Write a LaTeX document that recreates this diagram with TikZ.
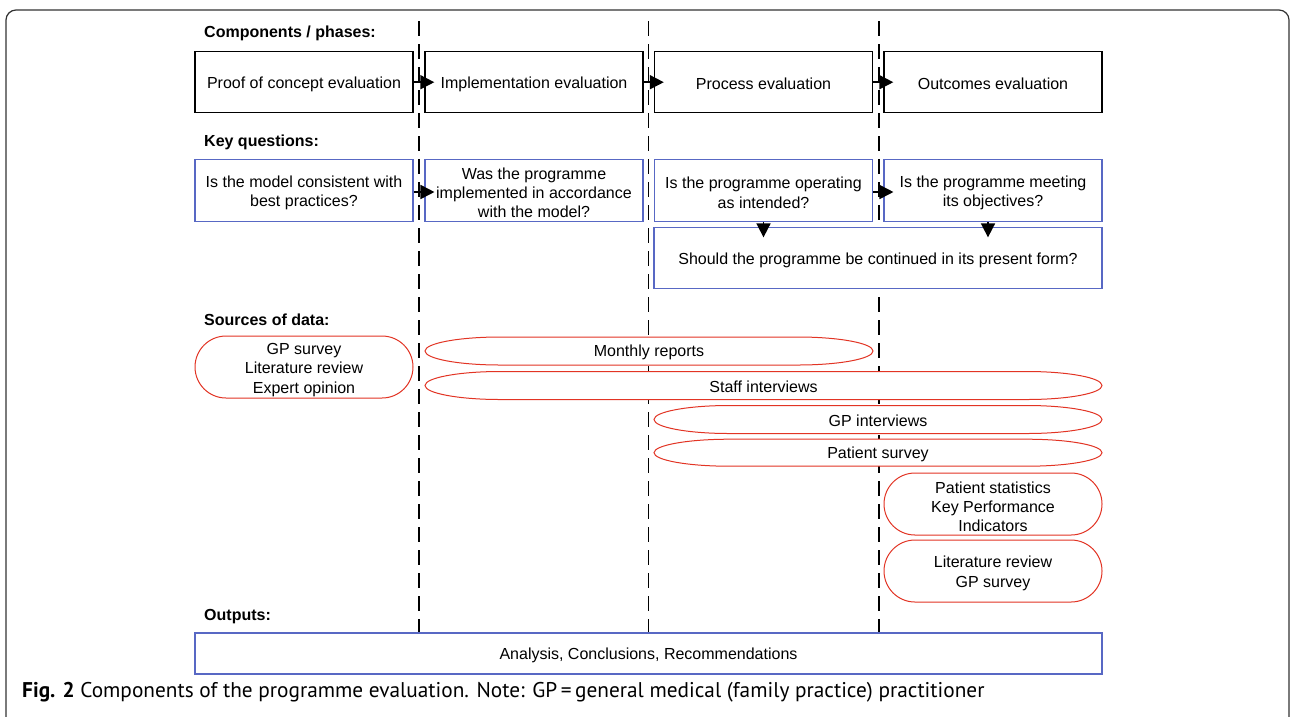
\documentclass[tikz,border=0pt]{standalone}
\usepackage{fontspec}
\setmainfont{Liberation Sans}
\newfontfamily\capfont{PT Sans}
\usetikzlibrary{arrows.meta}
\definecolor{qblue}{RGB}{88,104,196}
\definecolor{sred}{RGB}{226,52,36}
\newcommand\tstrut{\rule{0pt}{15pt}}
\newcommand\qstrut{\rule{0pt}{16.2pt}}
\newcommand\srcshape[5]{% x1, x2, yc, h, rx
  \draw[src] ({#1+#5},{#3-#4/2}) -- ({#2-#5},{#3-#4/2})
    arc[start angle=-90,end angle=90,x radius=#5,y radius={#4/2}]
    -- ({#1+#5},{#3+#4/2})
    arc[start angle=90,end angle=270,x radius=#5,y radius={#4/2}] -- cycle;}
\begin{document}
\begin{tikzpicture}[x=1pt,y=-1pt,
  font=\fontsize{16}{19.3}\selectfont,
  comp/.style={draw=black, fill=white, line width=1.4pt, minimum width=218pt, minimum height=61pt, inner sep=0pt, align=center},
  ques/.style={draw=qblue, fill=white, line width=1.1pt, minimum width=218pt, minimum height=62pt, inner sep=0pt, align=center},
  outbox/.style={draw=qblue, fill=white, line width=1.1pt, inner sep=0pt, align=center},
  head/.style={anchor=west, font=\fontsize{16}{19}\selectfont\bfseries, inner sep=0pt},
  txt/.style={inner sep=0pt, align=center},
  arr/.style={line width=1.7pt, -{Triangle[length=14pt,width=14pt]}},
  phase/.style={line width=1.4pt, dash pattern=on 15pt off 8pt},
  src/.style={draw=sred, fill=white, line width=1pt},
  frame/.style={draw=black!80, line width=1.2pt, rounded corners=10pt}]
\useasboundingbox (0,0) rectangle (1292,716);
% outer frame
\coordinate (fbl) at (6,730);
\coordinate (ftl) at (6,10);
\coordinate (ftr) at (1289,10);
\coordinate (fbr) at (1289,730);
\draw[frame] (fbl) -- (ftl) -- (ftr) -- (fbr);

% phase separators
\coordinate (d1t) at (419,21);   \coordinate (d1b) at (419,633);
\coordinate (d2t) at (648.5,21); \coordinate (d2b) at (648.5,633);
\coordinate (d3t) at (879,21);   \coordinate (d3b) at (879,633);
\draw[phase] (d1t) -- (d1b);
\draw[phase] (d2t) -- (d2b);
\draw[phase] (d3t) -- (d3b);

% headings
\node[head] (h1) at (204,33) {Components / phases:};
\node[head] (h2) at (204,142) {Key questions:};
\node[head] (h3) at (204,320) {Sources of data:};
\node[head] (h4) at (204,617) {Outputs:};

% components
\node[comp] (c1) at (304,82.2) {\tstrut Proof of concept evaluation};
\node[comp] (c2) at (534,82.2) {\tstrut Implementation evaluation};
\node[comp] (c3) at (763.5,82.2) {\tstrut Process evaluation};
\node[comp] (c4) at (993,82.2) {\tstrut Outcomes evaluation};
\draw[arr] (c1.east) -- ([xshift=10pt]c2.west);
\draw[arr] (c2.east) -- ([xshift=10pt]c3.west);
\draw[arr] (c3.east) -- ([xshift=10pt]c4.west);

% key questions
\node[ques] (q1) at (304,190.5) {\qstrut Is the model consistent with\\best practices?};
\node[ques] (q2) at (534,190.5) {\qstrut Was the programme\\implemented in accordance\\with the model?};
\node[ques] (q3) at (763.5,190.5) {\qstrut Is the programme operating\\as intended?};
\node[ques] (q4) at (993,190.5) {\qstrut Is the programme meeting\\its objectives?};
\node[ques,minimum width=448pt,minimum height=61pt] (q5) at (878,258.4) {\tstrut Should the programme be continued in its present form?};
\draw[arr] ([yshift=-1.5pt]q1.east) -- ([xshift=10pt,yshift=-1.5pt]q2.west);
\draw[arr] ([yshift=-1.5pt]q3.east) -- ([xshift=10pt,yshift=-1.5pt]q4.west);
\coordinate (q3a) at (q3.south);
\coordinate (q4a) at ([xshift=-5pt]q4.south);
\coordinate (q5a) at ([yshift=-10pt]q5.north -| q3a);
\coordinate (q5b) at ([yshift=-10pt]q5.north -| q4a);
\draw[arr] (q3a) -- (q5a);
\draw[arr] (q4a) -- (q5b);

% sources of data
\srcshape{195}{413}{367}{62}{31}
\node[txt] (s1) at (304,368) {\tstrut GP survey\\Literature review\\Expert opinion};
\srcshape{425}{873}{351}{28}{75}
\node[txt] (s2) at (649,351) {\tstrut Monthly reports};
\srcshape{425}{1102}{385.5}{28}{75}
\node[txt] (s3) at (763.5,385.5) {\tstrut Staff interviews};
\srcshape{654}{1102}{419.5}{28}{75}
\node[txt] (s4) at (878,419.5) {\tstrut GP interviews};
\srcshape{654}{1102}{452.7}{27}{75}
\node[txt] (s5) at (878,452.7) {\tstrut Patient survey};
\srcshape{884}{1102}{504}{62}{31}
\node[txt] (s6) at (993,505) {\tstrut Patient statistics\\Key Performance\\Indicators};
\srcshape{884}{1102}{571}{62}{31}
\node[txt] (s7) at (993,571.5) {\tstrut Literature review\\GP survey};

% outputs
\node[outbox,minimum width=907pt,minimum height=41pt] (o1) at (648.5,653.5) {\tstrut Analysis, Conclusions, Recommendations};

% caption
\node[anchor=base west,inner sep=0pt,font=\capfont\fontsize{21.3}{24}\selectfont] (cap) at (22,697) {\textbf{Fig. 2} Components of the programme evaluation. Note: GP\,=\,general medical (family practice) practitioner};
\end{tikzpicture}
\end{document}
